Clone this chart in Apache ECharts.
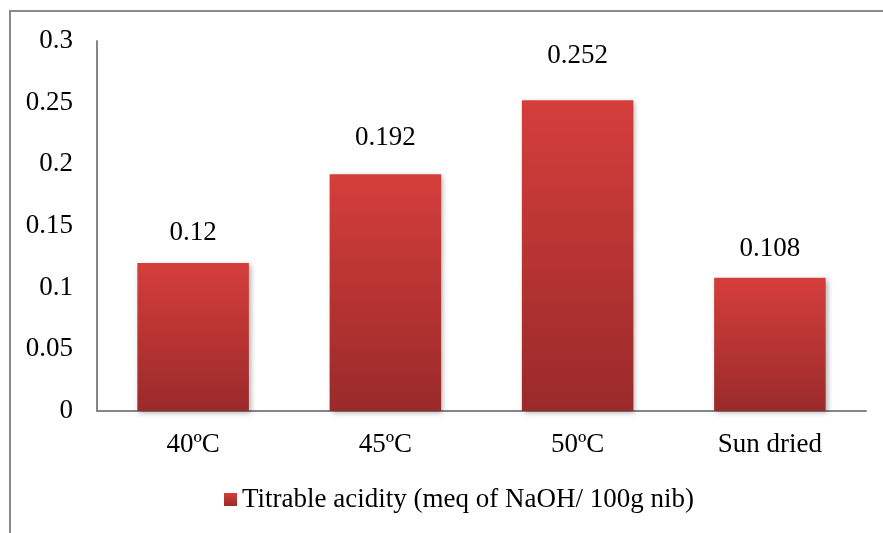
<!DOCTYPE html>
<html>
<head>
<meta charset="utf-8">
<script src="https://cdn.jsdelivr.net/npm/echarts@6/dist/echarts.min.js"></script>
<style>
  html, body { margin: 0; padding: 0; background: #fff; }
  #chart { width: 883px; height: 533px; }
</style>
</head>
<body>
<div id="chart"></div>
<script>
// data
var categories = ['40ºC', '45ºC', '50ºC', 'Sun dried'];
var acidity = [0.12, 0.192, 0.252, 0.108];
var seriesName = 'Titrable acidity (meq of NaOH/ 100g nib)';
var yTicks = [0, 0.05, 0.1, 0.15, 0.2, 0.25, 0.3];

// label gap above each bar (the original labels sit at uneven heights)
var labelGap = [17, 23, 31, 15];

var FONT = '"Liberation Serif", "Times New Roman", serif';
var barFill = new echarts.graphic.LinearGradient(0, 0, 0, 1, [
    {offset: 0, color: '#d43e3b'},
    {offset: 1, color: '#9a2a2a'}
]);

var barData = acidity.map(function (v, i) {
    return {value: v, label: {distance: labelGap[i]}};
});

var chart = echarts.init(document.getElementById('chart'));
var option = {
    animation: false,
    graphic: [{
        type: 'rect',
        shape: {x: 10, y: 11, width: 900, height: 600},
        style: {fill: 'none', stroke: '#8a8a8a', lineWidth: 2},
        silent: true
    }],
    legend: {
        data: [seriesName],
        bottom: 15,
        left: 219,
        icon: 'rect',
        itemWidth: 13,
        itemHeight: 13,
        itemGap: 5,
        textStyle: {fontFamily: FONT, fontSize: 27, color: '#000'}
    },
    grid: {left: 97, right: 17, top: 41, bottom: 122, containLabel: false},
    xAxis: {
        type: 'category',
        data: categories,
        axisLine: {lineStyle: {color: '#868686', width: 2}},
        axisTick: {show: false},
        axisLabel: {fontFamily: FONT, fontSize: 27, color: '#000', margin: 20}
    },
    yAxis: {
        type: 'value',
        min: yTicks[0],
        max: yTicks[yTicks.length - 1],
        interval: 0.05,
        axisLine: {show: true, lineStyle: {color: '#868686', width: 2}},
        axisTick: {show: false},
        splitLine: {show: false},
        axisLabel: {fontFamily: FONT, fontSize: 27, color: '#000', margin: 24}
    },
    series: [{
        name: seriesName,
        type: 'bar',
        data: barData,
        barWidth: '58%',
        itemStyle: {
            color: barFill,
            shadowColor: 'rgba(0,0,0,0.3)',
            shadowBlur: 5,
            shadowOffsetX: 2,
            shadowOffsetY: 2
        },
        label: {
            show: true,
            position: 'top',
            fontFamily: FONT,
            fontSize: 27,
            color: '#000'
        }
    }]
};
chart.setOption(option);
</script>
</body>
</html>
